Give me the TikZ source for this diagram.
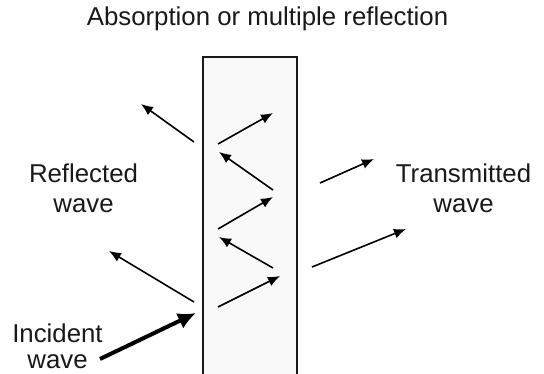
\documentclass[tikz,border=0pt]{standalone}
\usepackage{fontspec}
\setmainfont{Liberation Sans}
\usetikzlibrary{arrows.meta}

\tikzset{
  label text/.style={font=\fontsize{25.8}{30}\selectfont, text=black!90, inner sep=0pt, align=center},
  ray/.style={line width=1.6pt, -{Latex[length=12pt,width=10pt]}},
  incident ray/.style={line width=4pt, -{Latex[length=18pt,width=17pt]}},
  slab/.style={fill=gray!5, draw=none},
  slab edge/.style={draw=black!90, line width=2pt}
}

\begin{document}
\begin{tikzpicture}[x=1pt, y=-1pt]
  \useasboundingbox (0,0) rectangle (544,374);

  % absorbing slab, running off the bottom edge
  \fill[slab] (203,57) rectangle (297,380);
  \draw[slab edge] (203,380) -- (203,57) -- (297,57) -- (297,380);

  % labels (base anchor sits on the last line)
  \node[label text, anchor=base] (title) at (267.5,26) {Absorption or multiple reflection};
  \node[label text, anchor=base] (refl) at (83.5,213) {Reflected\\wave};
  \node[label text, anchor=base] (trans) at (463.5,213) {Transmitted\\wave};
  \node[label text, font=\fontsize{25.8}{27}\selectfont, anchor=base] (inc) at (57.5,369) {Incident\\wave};

  % ray end points
  \coordinate (i0) at (100,359);
  \coordinate (i1) at (196,313);

  \coordinate (a0) at (218,307);  \coordinate (a1) at (280,276);
  \coordinate (b0) at (273,268);  \coordinate (b1) at (219,237);
  \coordinate (c0) at (218,229);  \coordinate (c1) at (273,197);
  \coordinate (d0) at (273,190);  \coordinate (d1) at (219,152);
  \coordinate (e0) at (218,144);  \coordinate (e1) at (273,113);

  \coordinate (r0) at (194,142);  \coordinate (r1) at (141,104);
  \coordinate (s0) at (194,302);  \coordinate (s1) at (109,251);

  \coordinate (t0) at (320,183);  \coordinate (t1) at (374,159);
  \coordinate (u0) at (312,267);  \coordinate (u1) at (406,229);

  % incident wave
  \draw[incident ray] (i0) -- (i1);

  % multiple reflections inside the slab
  \draw[ray] (a0) -- (a1);
  \draw[ray] (b0) -- (b1);
  \draw[ray] (c0) -- (c1);
  \draw[ray] (d0) -- (d1);
  \draw[ray] (e0) -- (e1);

  % reflected waves
  \draw[ray] (r0) -- (r1);
  \draw[ray] (s0) -- (s1);

  % transmitted waves
  \draw[ray] (t0) -- (t1);
  \draw[ray] (u0) -- (u1);
\end{tikzpicture}
\end{document}
